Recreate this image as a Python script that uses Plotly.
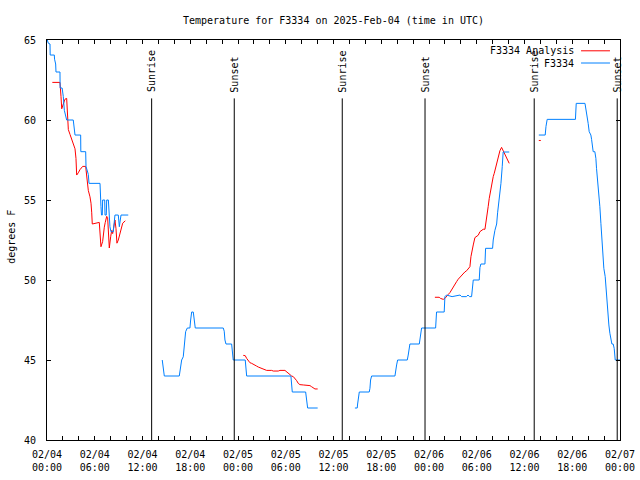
import plotly.graph_objects as go

# Time axis: hours since 2025-02-04 00:00 UTC
tick_hours = list(range(0, 73, 2))
tick_labels = {0: "02/04<br>00:00", 6: "02/04<br>06:00", 12: "02/04<br>12:00", 18: "02/04<br>18:00",
               24: "02/05<br>00:00", 30: "02/05<br>06:00", 36: "02/05<br>12:00", 42: "02/05<br>18:00",
               48: "02/06<br>00:00", 54: "02/06<br>06:00", 60: "02/06<br>12:00", 66: "02/06<br>18:00",
               72: "02/07<br>00:00"}
y_ticks = [40, 45, 50, 55, 60, 65]

# Observed F3334 (blue); None separates gaps
obs_hours = [0.04, 0.16, 0.38, 0.40, 0.92, 0.95, 1.09, 1.13, 1.63, 1.65, 1.90, 2.05, 2.18, 2.47, 3.30, 3.40, 3.52, 4.23,
             4.25, 4.86, 4.90, 5.19, 5.28, 6.66, 6.68, 6.78, 6.85, 6.95, 6.99, 7.25, 7.29, 7.45, 7.50, 7.71, 7.91, 8.04,
             8.33, 8.54, 8.96, 9.09, 9.30, 10.21, None,
             14.48, 14.61, 14.74, 16.62, 16.71, 16.80, 16.92, 17.12, 17.21, 17.34, 17.42, 17.63, 17.96, 18.05, 18.18,
             18.38, 18.47, 18.59, 18.63, 22.15, 22.27, 22.36, 22.49, 23.20, 23.32, 23.40, 24.91, 25.00, 25.09, 30.65,
             30.74, 30.82, 32.50, 32.63, 32.75, 34.01, None,
             38.69, 38.98, 39.03, 39.11, 39.24, 40.49, 40.58, 40.66, 40.79, 43.72, 43.84, 43.93, 44.06, 45.27, 45.39,
             45.48, 45.60, 46.78, 46.86, 46.95, 47.07, 48.83, 48.87, 48.95, 49.91, 50.00, 50.20, 50.90, 51.90, 52.10,
             52.70, 52.90, 53.10, 53.35, 53.56, 54.31, 54.40, 54.52, 55.03, 55.11, 55.99, 56.07, 56.28, 56.50, 56.62,
             56.75, 56.91, 57.04, 57.20, 57.32, 58.08, None,
             61.80, 62.60, 62.70, 62.85, 66.40, 66.46, 66.50, 67.60, 67.71, 67.88, 68.00, 68.13, 68.34, 68.43, 68.55,
             68.63, 68.84, 68.97, 69.05, 69.13, 69.22, 69.35, 69.47, 69.60, 69.72, 69.85, 69.97, 70.14, 70.23, 70.35,
             70.48, 70.60, 70.73, 70.85, 70.98, 71.14, 71.27, 71.40, 72.00]
obs_temp = [65.0, 64.8, 64.75, 64.06, 64.06, 63.8, 63.5, 63.0, 63.0, 62.0, 62.0, 61.46, 60.6, 60.0, 60.0, 59.5, 59.06, 59.06,
            58.02, 58.02, 57.1, 56.6, 56.04, 56.04, 55.0, 54.6, 54.06, 54.06, 55.0, 55.0, 54.06, 54.06, 55.0, 55.0, 53.33, 53.02,
            53.02, 54.06, 54.06, 53.33, 54.06, 54.06, None,
            45.0, 44.27, 44.0, 44.0, 44.27, 44.75, 45.0, 45.2, 45.7, 46.25, 46.77, 47.0, 47.0, 47.5, 48.0,
            48.0, 47.7, 47.3, 47.0, 47.0, 46.8, 46.25, 46.0, 46.0, 45.5, 45.0, 45.0, 44.5, 44.0, 44.0,
            43.5, 43.0, 43.0, 42.5, 42.0, 42.0, None,
            42.0, 42.0, 42.25, 42.71, 43.0, 43.0, 43.23, 43.75, 44.0, 44.0, 44.27, 44.69, 45.0, 45.0, 45.31,
            45.73, 46.0, 46.0, 46.25, 46.73, 47.0, 47.0, 47.46, 48.0, 48.0, 48.96, 49.06, 48.96, 49.06, 48.96,
            48.96, 49.06, 48.96, 48.96, 50.0, 50.0, 50.77, 51.0, 51.0, 51.98, 51.98, 52.5, 53.1, 53.5, 54.2,
            54.7, 55.5, 56.04, 57.08, 58.0, 58.0, None,
            59.06, 59.06, 59.6, 60.04, 60.04, 60.6, 61.04, 61.04, 60.73, 60.31, 59.79, 59.27, 59.06, 58.79, 58.33,
            58.02, 58.02, 57.6, 56.98, 56.56, 55.83, 55.31, 54.58, 53.54, 52.5, 51.46, 50.73, 50.21, 49.48, 48.54,
            47.71, 47.19, 46.67, 46.25, 46.0, 46.0, 45.73, 45.0, 45.0]

# F3334 Analysis (red)
ana_hours = [0.67, 1.63, 1.76, 1.85, 2.05, 2.26, 2.47, 2.55, 2.68, 2.89, 3.10, 3.30, 3.52, 3.64, 3.73, 3.93, 4.15, 4.48,
             4.86, 4.99, 5.19, 5.40, 5.53, 5.62, 5.69, 6.57, 6.66, 6.78, 6.99, 7.07, 7.20, 7.32, 7.50, 7.62, 7.70, 7.83,
             8.00, 8.13, 8.25, 8.42, 8.54, 8.67, 8.79, 8.96, 9.17, 9.38, 9.51, 9.84, None,
             24.66, 24.91, 25.09, 25.29, 25.50, 25.72, 25.92, 26.13, 26.34, 26.55, 26.76, 26.97, 27.17, 27.39, 27.60,
             28.23, 28.43, 29.06, 29.27, 29.90, 30.11, 30.32, 30.53, 30.74, 30.95, 31.16, 31.37, 31.57, 31.78, 32.20,
             32.41, 33.04, 33.25, 33.46, 33.67, 34.01, None,
             48.74, 49.28, 49.45, 49.79, 50.00, 50.21, 50.42, 50.63, 50.84, 51.04, 51.25, 51.47, 51.67, 51.88, 52.09,
             52.30, 52.50, 52.73, 53.02, 53.14, 53.27, 53.35, 53.56, 53.77, 53.98, 54.19, 54.40, 54.60, 54.81, 55.03,
             55.15, 55.31, 55.36, 55.44, 55.57, 55.74, 55.90, 56.07, 56.20, 56.37, 56.50, 56.58, 56.70, 56.91, 57.12,
             57.20, 57.42, 57.60, 57.75, 57.97, 58.08, None,
             61.80, 62.05]
ana_temp = [62.35, 62.35, 61.46, 60.7, 61.0, 61.3, 61.35, 60.2, 59.4, 59.1, 58.8, 58.5, 58.2, 57.6, 56.56, 56.7, 56.9, 57.1,
            57.1, 56.5, 55.6, 55.2, 54.8, 54.2, 53.5, 53.6, 53.0, 52.08, 52.4, 52.9, 53.3, 53.6, 53.98, 53.9, 53.2, 52.0,
            52.7, 53.1, 52.9, 53.6, 53.75, 53.2, 52.3, 52.5, 52.9, 53.3, 53.55, 53.7, None,
            45.29, 45.27, 45.1, 44.96, 44.83, 44.79, 44.75, 44.67, 44.62, 44.56, 44.52, 44.5, 44.46, 44.38, 44.35,
            44.35, 44.31, 44.31, 44.35, 44.35, 44.27, 44.17, 44.06, 44.0, 43.96, 43.85, 43.71, 43.54, 43.46, 43.44,
            43.42, 43.4, 43.33, 43.25, 43.19, 43.19, None,
            48.92, 48.92, 48.85, 48.79, 48.85, 49.0, 49.1, 49.21, 49.4, 49.58, 49.75, 49.9, 50.05, 50.17, 50.3,
            50.42, 50.5, 50.58, 50.73, 50.83, 51.46, 51.7, 52.19, 52.65, 52.7, 52.8, 53.02, 53.1, 53.17, 53.17,
            53.54, 53.92, 54.3, 54.6, 55.1, 55.63, 56.04, 56.46, 56.67, 56.98, 57.23, 57.5, 57.75, 58.08, 58.29,
            58.2, 58.02, 57.8, 57.6, 57.33, 57.29, None,
            58.72, 58.72]

# Sun events (hours since start)
sun_hours = [13.15, 23.53, 37.10, 47.50, 61.22, 71.65]
sun_labels = ["Sunrise", "Sunset", "Sunrise", "Sunset", "Sunrise", "Sunset"]

RED = "#ff0000"
BLUE = "#0080ff"
FONT = "DejaVu Sans Mono"

fig = go.Figure()
fig.add_trace(go.Scatter(x=ana_hours, y=ana_temp, mode="lines", name="F3334 Analysis",
                         line=dict(color=RED, width=1), showlegend=False, connectgaps=False))
fig.add_trace(go.Scatter(x=obs_hours, y=obs_temp, mode="lines", name="F3334",
                         line=dict(color=BLUE, width=1), showlegend=False, connectgaps=False))

shapes = []
annotations = []
for h, lab in zip(sun_hours, sun_labels):
    shapes.append(dict(type="line", xref="x", yref="y", x0=h, x1=h, y0=40, y1=61.35,
                       line=dict(color="black", width=1)))
    annotations.append(dict(x=h, y=61.6, xref="x", yref="y", text=lab, textangle=-90,
                            showarrow=False, xanchor="center", yanchor="bottom",
                            font=dict(family=FONT, size=10, color="black")))

# gnuplot-style legend: text on the left, sample line on the right
legend_items = [("F3334 Analysis", RED, 0.973), ("F3334", BLUE, 0.9425)]
for txt, col, yy in legend_items:
    annotations.append(dict(x=0.9235, y=yy, xref="paper", yref="paper", text=txt, showarrow=False,
                            xanchor="right", yanchor="middle", font=dict(family=FONT, size=10, color="black")))
    shapes.append(dict(type="line", xref="paper", yref="paper", x0=0.932, x1=0.9825, y0=yy, y1=yy,
                       line=dict(color=col, width=1)))

annotations.append(dict(x=-0.061, y=0.508, xref="paper", yref="paper", text="degrees F", textangle=-90,
                        showarrow=False, xanchor="center", yanchor="middle",
                        font=dict(family=FONT, size=10, color="black")))

fig.update_layout(
    width=640, height=480,
    margin=dict(l=47, r=20, t=40, b=40, pad=0),
    paper_bgcolor="white", plot_bgcolor="white",
    font=dict(family=FONT, size=10, color="black"),
    title=dict(text="Temperature for F3334 on 2025-Feb-04 (time in UTC)", x=0.5, xref="paper",
               y=1 - 20 / 480, yref="container", xanchor="center", yanchor="middle",
               font=dict(family=FONT, size=10, color="black")),
    shapes=shapes, annotations=annotations, showlegend=False,
)
fig.update_xaxes(range=[0, 72], tickmode="array", tickvals=tick_hours,
                 ticktext=[tick_labels.get(h, "") for h in tick_hours],
                 ticks="inside", ticklen=4, tickcolor="black", showgrid=False, zeroline=False,
                 showline=True, linecolor="black", linewidth=1, mirror="ticks", automargin=False,
                 ticklabelstandoff=5, tickfont=dict(family=FONT, size=10, color="black"))
fig.update_yaxes(range=[40, 65], tickmode="array", tickvals=y_ticks, ticktext=[str(v) for v in y_ticks],
                 ticks="inside", ticklen=4, tickcolor="black", showgrid=False, zeroline=False,
                 showline=True, linecolor="black", linewidth=1, mirror="ticks", automargin=False,
                 ticklabelstandoff=8, tickfont=dict(family=FONT, size=10, color="black"))

fig.write_html("out.html", config={"displayModeBar": False},
               post_script="document.body.style.margin='0';document.body.style.overflow='hidden';")
